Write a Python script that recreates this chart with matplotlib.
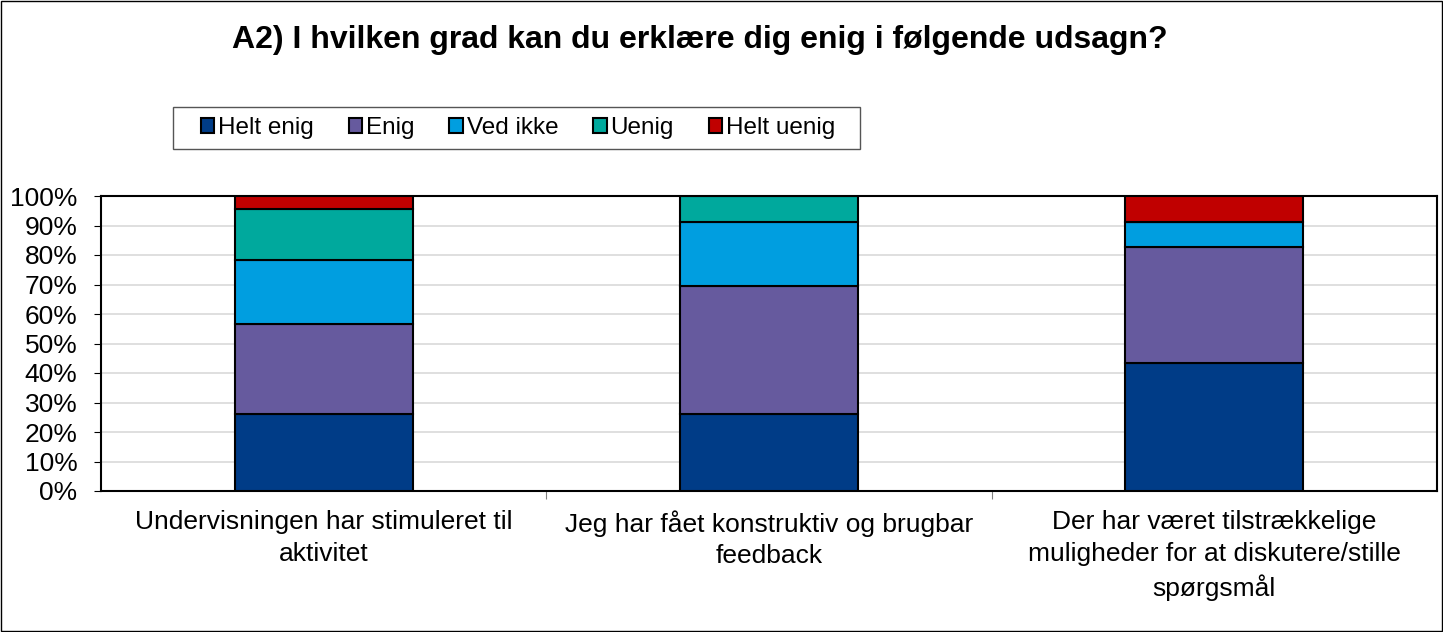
import matplotlib
matplotlib.use('Agg')
import matplotlib.pyplot as plt
import matplotlib.ticker as ticker
from matplotlib.patches import Rectangle
import numpy as np

plt.rcParams.update({
    'font.family': ['Liberation Sans', 'DejaVu Sans'],
    'font.size': 19,
})

# data (share of 23 answers, in %)
categories = ['Undervisningen har stimuleret til\naktivitet',
              'Jeg har fået konstruktiv og brugbar\nfeedback',
              'Der har været tilstrækkelige\nmuligheder for at diskutere/stille\nspørgsmål']
series = ['Helt enig', 'Enig', 'Ved ikke', 'Uenig', 'Helt uenig']
helt_enig = [26.1, 26.1, 43.5]
enig = [30.4, 43.5, 39.1]
ved_ikke = [21.7, 21.7, 8.7]
uenig = [17.4, 8.7, 0.0]
helt_uenig = [4.3, 0.0, 8.7]
colors = ['#003c87', '#665a9e', '#009ee0', '#00a99d', '#c00000']

W, H = 1443, 632
fig = plt.figure(figsize=(W/100, H/100), dpi=100)
ax = fig.add_axes([101/W, 1 - 491/H, (1437-101)/W, (491-196)/H])

x = np.arange(len(categories))
bottom = np.zeros(len(categories))
for name, vals, c in zip(series, [helt_enig, enig, ved_ikke, uenig, helt_uenig], colors):
    vals = np.array(vals)
    ax.bar(x, vals, width=0.4, bottom=bottom, color=c, edgecolor='black',
           linewidth=1.5, label=name, zorder=3)
    bottom += vals

ax.set_xlim(-0.5, 2.5)
ax.set_ylim(0, 100)
ax.yaxis.set_major_locator(ticker.MultipleLocator(10))
ax.yaxis.set_major_formatter(ticker.FuncFormatter(lambda v, p: f"{v:.0f}%"))
ax.grid(axis='y', color='#d9d9d9', linewidth=1.2, zorder=0)
ax.set_xticks([0.5, 1.5], minor=False)
ax.set_xticklabels([])
ax.set_xticks(x, minor=True)
ax.set_xticklabels(categories, minor=True, fontsize=19, linespacing=1.38)
ax.tick_params(axis='x', which='minor', length=0, pad=14)
ax.tick_params(axis='x', which='major', length=6, direction='out', color='gray')
ax.tick_params(axis='y', length=5, direction='out', labelsize=19, pad=12)
for s in ax.spines.values():
    s.set_linewidth(1.5)

fig.text(0.485, 1 - 40/H, 'A2) I hvilken grad kan du erklære dig enig i følgende udsagn?',
         ha='center', va='center', fontsize=23, fontweight='bold')

handles, labels = ax.get_legend_handles_labels()
leg = fig.legend(handles, labels, loc='center', ncol=5,
                 bbox_to_anchor=(518/W, 1 - 128/H), frameon=False,
                 handlelength=0.55, handleheight=0.55, handletextpad=0.15,
                 columnspacing=1.45, fontsize=17.5, borderpad=0.5)

# legend frame
fig.add_artist(Rectangle((173/W, 1 - 149/H), (860-173)/W, 42/H, transform=fig.transFigure,
                         fill=False, edgecolor='#555555', linewidth=1))
# outer border
fig.add_artist(Rectangle((0.001, 0.001), 0.998, 0.997, transform=fig.transFigure,
                         fill=False, edgecolor='black', linewidth=1))

fig.savefig('out.png', dpi=100)
